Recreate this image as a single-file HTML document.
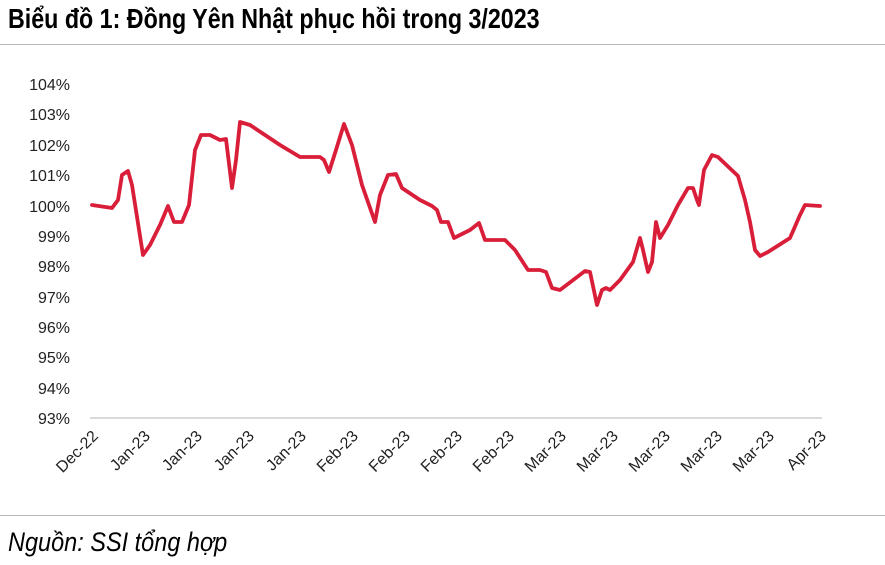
<!DOCTYPE html>
<html><head><meta charset="utf-8"><style>
body{margin:0;background:#fff;width:885px;height:565px;overflow:hidden;position:relative;font-family:"Liberation Sans",sans-serif}
.t{position:absolute;left:8px;top:3px;font-family:"Liberation Sans",sans-serif;font-weight:bold;font-size:28px;color:#000;white-space:nowrap;transform:scaleX(0.83);transform-origin:0 0}
.f{position:absolute;left:8px;top:527px;font-family:"Liberation Sans",sans-serif;font-style:italic;font-size:27px;color:#000;white-space:nowrap;transform:scaleX(0.87);transform-origin:0 0}
</style></head><body>
<div class="t">Biểu đồ 1: Đồng Yên Nhật phục hồi trong 3/2023</div>
<div style="position:absolute;left:0;top:44px;width:885px;height:1px;background:#bbb"></div>
<div style="position:absolute;left:0;top:515px;width:885px;height:1px;background:#bbb"></div>
<svg width="885" height="565" style="position:absolute;left:0;top:0">
<g font-family="Liberation Sans, sans-serif" font-size="16" fill="#222" text-anchor="end">
<text x="70" y="90">104%</text><text x="70" y="120">103%</text><text x="70" y="151">102%</text><text x="70" y="181">101%</text><text x="70" y="212">100%</text><text x="70" y="242">99%</text><text x="70" y="272">98%</text><text x="70" y="303">97%</text><text x="70" y="333">96%</text><text x="70" y="363">95%</text><text x="70" y="394">94%</text><text x="70" y="424">93%</text>
</g>
<line x1="90" y1="418" x2="822" y2="418" stroke="#d9d9d9" stroke-width="2"/>
<g font-family="Liberation Sans, sans-serif" font-size="16" fill="#222" text-anchor="end">
<text transform="translate(99,437) rotate(-45)">Dec-22</text>
<text transform="translate(151,437) rotate(-45)">Jan-23</text>
<text transform="translate(203,437) rotate(-45)">Jan-23</text>
<text transform="translate(255,437) rotate(-45)">Jan-23</text>
<text transform="translate(307,437) rotate(-45)">Jan-23</text>
<text transform="translate(359,437) rotate(-45)">Feb-23</text>
<text transform="translate(411,437) rotate(-45)">Feb-23</text>
<text transform="translate(463,437) rotate(-45)">Feb-23</text>
<text transform="translate(515,437) rotate(-45)">Feb-23</text>
<text transform="translate(567,437) rotate(-45)">Mar-23</text>
<text transform="translate(619,437) rotate(-45)">Mar-23</text>
<text transform="translate(671,437) rotate(-45)">Mar-23</text>
<text transform="translate(723,437) rotate(-45)">Mar-23</text>
<text transform="translate(775,437) rotate(-45)">Mar-23</text>
<text transform="translate(827,437) rotate(-45)">Apr-23</text>
</g>
<polyline fill="none" stroke="#d91e3a" stroke-width="3.8" stroke-linejoin="round" stroke-linecap="round" points="92,205 112,208 118,200 122,175 128,171 132,185 143,255 150,245 160,225 168,206 174,222 182,222 189,205 195,150 201,135 210,135 220,140 226,139 232,188 236,160 240,122 250,125 280,145 300,157 320,157 324,160 329,172 336,150 344,124 352,145 362,185 375,222 380,195 388,175 396,174 402,188 420,200 432,206 437,210 441,222 448,222 454,238 470,230 479,223 485,240 505,240 515,250 528,270 540,270 546,272 552,288 560,290 585,271 590,272 597,305 602,290 606,288 610,290 620,280 633,262 640,238 643,250 648,272 652,262 656,222 660,238 668,225 678,205 688,188 693,188 697,200 699,205 704,170 712,155 718,157 738,176 745,200 750,222 755,250 760,256 768,252 790,238 800,215 805,205 820,206"/>
</svg>
<div class="f">Nguồn: SSI tổng hợp</div>
</body></html>
